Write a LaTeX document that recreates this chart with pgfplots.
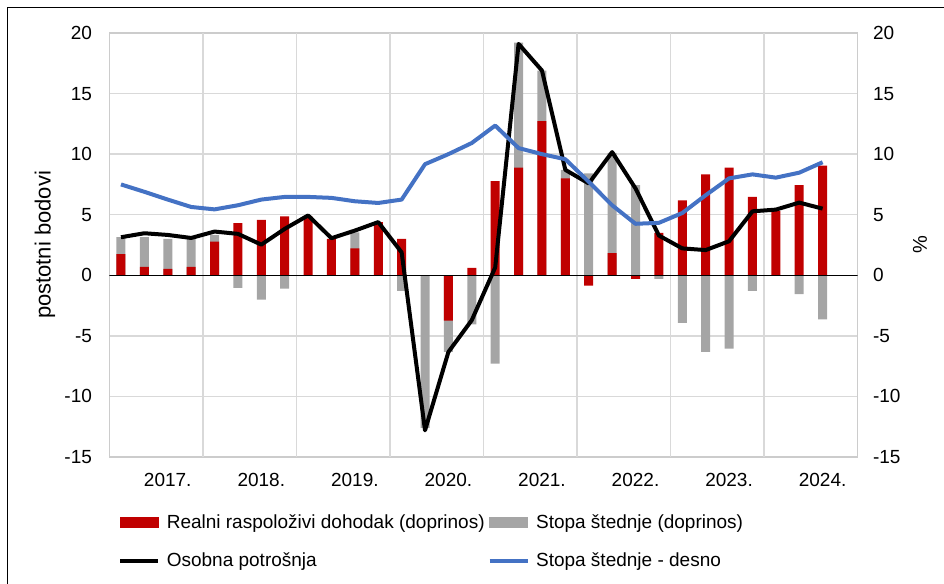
\documentclass[border=0pt]{standalone}
\usepackage{pgfplots}
\pgfplotsset{compat=1.18}
\usepackage{fontspec}
\setmainfont{Liberation Sans}
\definecolor{cred}{HTML}{C00000}
\definecolor{cgray}{HTML}{A5A5A5}
\definecolor{cblue}{HTML}{4472C4}
\definecolor{cgrid}{HTML}{D9D9D9}
\definecolor{cframe}{HTML}{CCCCCC}
\begin{document}
\begin{tikzpicture}
\path[use as bounding box] (-54.65pt,-63.5pt) rectangle (417.35pt,228.5pt);
\draw[line width=0.5pt] (-50.65pt,-63.5pt) -- (-50.65pt,224.5pt) -- (417.35pt,224.5pt);
\begin{axis}[
 at={(0pt,0pt)}, anchor=south west,
 scale only axis, width=374.2pt, height=212pt,
 xmin=-0.5, xmax=31.5, ymin=-15, ymax=20,
 ytick={-15,-10,...,20},
 xtick={2,6,...,30},
 xticklabels={2017.,2018.,2019.,2020.,2021.,2022.,2023.,2024.},
 extra x ticks={3.5,7.5,...,27.5},
 extra x tick labels={},
 extra x tick style={grid=major},
 ymajorgrids,
 major grid style={cgrid, line width=0.75pt},
 major tick length=0pt,
 axis line style={cframe, line width=0.75pt},
 tick label style={font=\fontsize{9.5}{11}\selectfont},
 /pgf/number format/assume math mode=true,
 yticklabel style={inner sep=0pt, xshift=-8.5pt},
 xticklabel style={inner sep=0pt, yshift=-8pt},
 ylabel={postotni bodovi},
 ylabel style={at={(axis description cs:-0.0859,0.5)}, anchor=center, font=\fontsize{11}{13}\selectfont},
 legend columns=2,
 legend style={draw=none, fill=none, at={(axis description cs:0.0036,-0.125)}, anchor=north west,
   font=\fontsize{9.5}{11}\selectfont, column sep=3.2pt, row sep=10.5pt,
   /tikz/every even column/.append style={column sep=1.5pt},
   nodes={inner sep=0pt}},
 legend cell align=left,
]
% gray bars (extent from zero of the savings-rate contribution, as drawn)
\addplot[ybar, bar width=4.5pt, bar shift=0pt, fill=cgray, draw=none, forget plot] coordinates {
(0,3.14) (1,3.14) (2,3.0) (3,3.0) (4,3.33) (5,-1.03) (6,-2.0) (7,-1.1)
(8,0) (9,0) (10,3.55) (11,0) (12,-1.28) (13,-12.6) (14,-6.33) (15,-4.06)
(16,-7.3) (17,19.2) (18,16.9) (19,8.7) (20,8.42) (21,10.1) (22,7.44) (23,-0.3)
(24,-3.92) (25,-6.33) (26,-6.06) (27,-1.28) (28,0) (29,-1.56) (30,-3.64)};
% red bars
\addplot[ybar, bar width=4.5pt, bar shift=0pt, fill=cred, draw=none, forget plot] coordinates {
(0,1.75) (1,0.69) (2,0.53) (3,0.69) (4,2.78) (5,4.30) (6,4.58) (7,4.86)
(8,4.85) (9,3.00) (10,2.22) (11,4.39) (12,3.00) (13,0) (14,-3.75) (15,0.61)
(16,7.78) (17,8.89) (18,12.72) (19,8.00) (20,-0.86) (21,1.83) (22,-0.30) (23,3.50)
(24,6.19) (25,8.33) (26,8.89) (27,6.47) (28,5.30) (29,7.44) (30,9.06)};
% zero line
\addplot[black, line width=0.7pt, forget plot] coordinates {(-0.5,0) (31.5,0)};
% personal consumption
\addplot[black, line width=2pt, line join=round, forget plot] coordinates {
(0,3.14) (1,3.47) (2,3.33) (3,3.08) (4,3.61) (5,3.42) (6,2.53) (7,3.83)
(8,4.94) (9,3.06) (10,3.69) (11,4.39) (12,1.89) (13,-12.8) (14,-6.33) (15,-3.7)
(16,0.64) (17,19.1) (18,16.9) (19,8.7) (20,7.58) (21,10.17) (22,7.17) (23,3.28)
(24,2.22) (25,2.08) (26,2.81) (27,5.28) (28,5.42) (29,6.0) (30,5.5)};
% savings rate (right axis, same scale)
\addplot[cblue, line width=2pt, line join=round, forget plot] coordinates {
(0,7.5) (1,6.89) (2,6.25) (3,5.64) (4,5.44) (5,5.78) (6,6.25) (7,6.47)
(8,6.47) (9,6.39) (10,6.11) (11,5.97) (12,6.25) (13,9.17) (14,10.0) (15,10.92)
(16,12.36) (17,10.5) (18,10.0) (19,9.58) (20,7.72) (21,5.78) (22,4.25) (23,4.33)
(24,5.14) (25,6.61) (26,8.0) (27,8.33) (28,8.06) (29,8.47) (30,9.33)};
\addlegendimage{legend image code/.code={\fill[cred] (0pt,-2.5pt) rectangle (19pt,2.5pt);}}
\addlegendentry{Realni raspoloživi dohodak (doprinos)}
\addlegendimage{legend image code/.code={\fill[cgray] (0pt,-2.5pt) rectangle (19pt,2.5pt);}}
\addlegendentry{Stopa štednje (doprinos)}
\addlegendimage{legend image code/.code={\draw[black, line width=2pt] (0pt,0pt) -- (19pt,0pt);}}
\addlegendentry{Osobna potrošnja}
\addlegendimage{legend image code/.code={\draw[cblue, line width=2pt] (0pt,0pt) -- (19pt,0pt);}}
\addlegendentry{Stopa štednje - desno}
\end{axis}
\begin{axis}[
 at={(0pt,0pt)}, anchor=south west,
 scale only axis, width=374.2pt, height=212pt,
 xmin=-0.5, xmax=31.5, ymin=-15, ymax=20,
 ytick={-15,-10,...,20},
 axis x line=none, axis y line*=right,
 axis line style={draw=none},
 major tick length=0pt,
 tick label style={font=\fontsize{9.5}{11}\selectfont},
 /pgf/number format/assume math mode=true,
 yticklabel style={inner sep=0pt, xshift=7.5pt},
 ylabel={\%},
 ylabel style={at={(axis description cs:1.0833,0.5)}, anchor=center, font=\fontsize{10}{12}\selectfont},
]
\addplot[draw=none, forget plot] coordinates {(0,0)};
\end{axis}
\end{tikzpicture}
\end{document}
